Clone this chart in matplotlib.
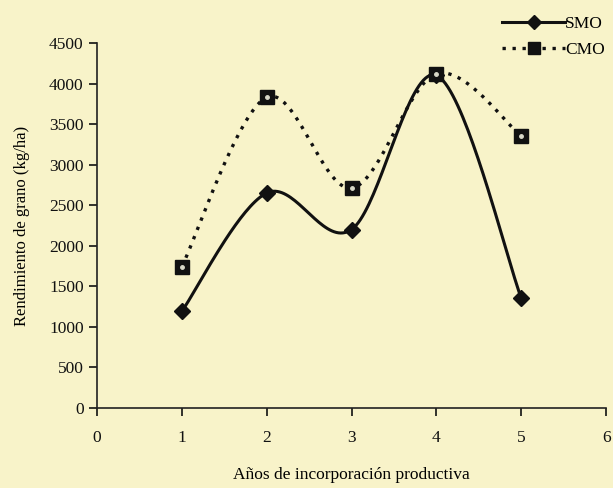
import numpy as np
import matplotlib.pyplot as plt
from matplotlib.lines import Line2D

plt.rcParams['font.family'] = ['Liberation Serif', 'DejaVu Serif']

# rendimiento por año de incorporación
anios = [1, 2, 3, 4, 5]
smo = [1190, 2650, 2200, 4100, 1350]
cmo = [1740, 3830, 2710, 4120, 3350]

bg = '#f8f3c9'


def suavizar(x, y, n=40):
    # curva tipo Catmull-Rom entre los puntos, como la línea suavizada de Excel
    x = np.asarray(x, float)
    y = np.asarray(y, float)
    px = np.concatenate([[x[0]], x, [x[-1]]])
    py = np.concatenate([[y[0]], y, [y[-1]]])
    xs, ys = [], []
    for i in range(1, len(px) - 2):
        t = np.linspace(0, 1, n)
        for p, out in ((px, xs), (py, ys)):
            p0, p1, p2, p3 = p[i - 1], p[i], p[i + 1], p[i + 2]
            c1 = p1 + (p2 - p0) / 6
            c2 = p2 - (p3 - p1) / 6
            out.extend((1 - t) ** 3 * p1 + 3 * (1 - t) ** 2 * t * c1
                       + 3 * (1 - t) * t ** 2 * c2 + t ** 3 * p2)
    return np.array(xs), np.array(ys)


fig = plt.figure(figsize=(6.13, 4.88), dpi=100, facecolor=bg)
ax = fig.add_axes([0.158, 0.164, 0.831, 0.748], facecolor=bg)

xs, ys = suavizar(anios, smo)
ax.plot(xs, ys, color='#111111', lw=2.2, solid_capstyle='round')
ax.plot(anios, smo, ls='none', marker='D', ms=8, color='#111111')

xs, ys = suavizar(anios, cmo)
ax.plot(xs, ys, color='#111111', lw=2.4, ls=(0, (1.0, 2.0)))
ax.plot(anios, cmo, ls='none', marker='s', ms=10, color='#111111')
ax.plot(anios, cmo, ls='none', marker='o', ms=2.5, color='#d8d8c8')

ax.set_xlim(0, 6)
ax.set_ylim(0, 4500)
ax.set_xticks(range(0, 7))
ax.set_yticks(range(0, 4501, 500))
for s in ('top', 'right'):
    ax.spines[s].set_visible(False)
for s in ('left', 'bottom'):
    ax.spines[s].set_linewidth(1.2)
    ax.spines[s].set_color('#222222')
ax.tick_params(direction='out', length=6, width=1.2, labelsize=12.5,
               colors='#111111')
ax.tick_params(axis='x', pad=10)
ax.set_xlabel('Años de incorporación productiva', fontsize=12.5, labelpad=15)
ax.set_ylabel('Rendimiento de grano (kg/ha)', fontsize=12, labelpad=14)

handles = [
    Line2D([], [], color='#111111', lw=2.2, marker='D', ms=7),
    Line2D([], [], color='#111111', lw=2.4, ls=(0, (1.0, 2.0)), marker='s', ms=9),
]
fig.legend(handles, ['SMO', 'CMO'], loc='upper right',
           bbox_to_anchor=(1.012, 1.0), frameon=False, fontsize=12.5,
           handlelength=3.6, handletextpad=0.0, labelspacing=0.6)

fig.savefig('out.png', dpi=100, facecolor=bg)
